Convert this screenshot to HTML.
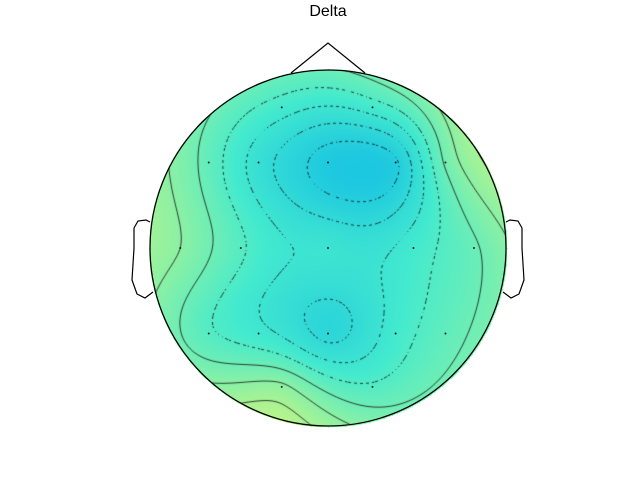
<!DOCTYPE html>
<html><head><meta charset="utf-8"><style>
html,body{margin:0;padding:0;background:#fff;}
#wrap{position:relative;width:640px;height:480px;font-family:"Liberation Sans",sans-serif;}
canvas,svg{position:absolute;left:0;top:0;}
</style></head><body>
<div id="wrap">
<canvas id="cv" width="640" height="480"></canvas>
<svg id="sv" width="640" height="480">
<text x="328" y="16" text-anchor="middle" font-size="16" fill="#000">Delta</text>
<polyline points="291,73 328,43 365,73" fill="none" stroke="#000" stroke-width="1.2"/>
<path d="M150,222 L146,220 L138,221 L134,228 L134,248 L132,280 L137,294 L145,298 L153,292" fill="none" stroke="#000" stroke-width="1.2"/>
<path d="M506,222 L510,220 L518,221 L522,228 L522,248 L524,280 L519,294 L511,298 L503,292" fill="none" stroke="#000" stroke-width="1.2"/>
<circle cx="328" cy="248" r="178" fill="none" stroke="#000" stroke-width="1.3"/>
<g id="sensors"></g>
</svg>
</div>
<script>
const sensorNames=["Fp1","Fp2","F7","F3","Fz","F4","F8","T3","C3","Cz","C4","T4","T5","P3","Pz","P4","T6","O1","O2"];
const sensorX=[-0.26,0.25,-0.67,-0.39,0,0.38,0.66,-0.83,-0.49,0,0.48,0.82,-0.67,-0.39,0,0.38,0.66,-0.26,0.25];
const sensorY=[0.79,0.79,0.48,0.48,0.48,0.48,0.48,0,0,0,0,0,-0.48,-0.48,-0.48,-0.48,-0.48,-0.78,-0.78];
const sensorValues=[0.42,0.42,0.55,0.3,0.06,0.1,0.62,0.72,0.5,0.35,0.42,0.58,0.5,0.4,0.2,0.42,0.55,0.75,0.5];
const contourLevels=[0.12,0.24,0.36,0.48,0.6,0.72,0.84];
const CX=328,CY=248,R=178;
const sx=u=>CX+u*R, sy=v=>CY-v*R;
const N=sensorX.length;
const phi=r2=>r2<=1e-9?0:0.5*r2*Math.log(r2);
const A=[];
for(let i=0;i<N+3;i++){A[i]=new Array(N+4).fill(0);}
for(let i=0;i<N;i++){
  for(let j=0;j<N;j++){const dx=sensorX[i]-sensorX[j],dy=sensorY[i]-sensorY[j];A[i][j]=phi(dx*dx+dy*dy);}
  A[i][N]=1;A[i][N+1]=sensorX[i];A[i][N+2]=sensorY[i];
  A[N][i]=1;A[N+1][i]=sensorX[i];A[N+2][i]=sensorY[i];
  A[i][N+3]=sensorValues[i];
}
const M=N+3;
for(let c=0;c<M;c++){
  let p=c;for(let r=c+1;r<M;r++)if(Math.abs(A[r][c])>Math.abs(A[p][c]))p=r;
  [A[c],A[p]]=[A[p],A[c]];
  for(let r=0;r<M;r++){if(r===c)continue;const f=A[r][c]/A[c][c];for(let k=c;k<=M;k++)A[r][k]-=f*A[c][k];}
}
const coef=A.map((row,i)=>row[M]/row[i]);
function field(px,py){
  const u=(px-CX)/R,v=(CY-py)/R;
  let s=coef[N]+coef[N+1]*u+coef[N+2]*v;
  for(let i=0;i<N;i++){const dx=u-sensorX[i],dy=v-sensorY[i];s+=coef[i]*phi(dx*dx+dy*dy);}
  return s;
}
function cmap(t){
  t=Math.max(0,Math.min(1,(t+0.05)/0.95));
  const s=[[0,[20,192,228]],[0.5,[68,234,206]],[1,[182,244,140]]];
  let a=s[0],b=s[1];if(t>0.5){a=s[1];b=s[2];}
  const f=(t-a[0])/(b[0]-a[0]);
  return a[1].map((c,k)=>Math.round(c+(b[1][k]-c)*f));
}
const cv=document.getElementById('cv'),ctx=cv.getContext('2d');
const img=ctx.createImageData(640,480);
for(let y=CY-R-1;y<=CY+R+1;y++)for(let x=CX-R-1;x<=CX+R+1;x++){
  const dx=x-CX,dy=y-CY;if(dx*dx+dy*dy>(R+1)*(R+1))continue;
  const c=cmap(field(x,y));const o=(y*640+x)*4;
  img.data[o]=c[0];img.data[o+1]=c[1];img.data[o+2]=c[2];img.data[o+3]=255;
}
ctx.putImageData(img,0,0);
const st=3,x0=CX-R-st,y0=CY-R-st,n=Math.ceil((2*R+2*st)/st)+1;
const g=[];for(let j=0;j<n;j++){g[j]=[];for(let i=0;i<n;i++)g[j][i]=field(x0+i*st,y0+j*st);}
ctx.save();ctx.beginPath();ctx.arc(CX,CY,R,0,Math.PI*2);ctx.clip();
ctx.strokeStyle='#111';ctx.lineWidth=0.8;
contourLevels.forEach(L=>{
  const dashed=L<0.5;ctx.beginPath();
  for(let j=0;j<n-1;j++)for(let i=0;i<n-1;i++){
    const v=[g[j][i],g[j][i+1],g[j+1][i+1],g[j+1][i]];
    const p=[[x0+i*st,y0+j*st],[x0+(i+1)*st,y0+j*st],[x0+(i+1)*st,y0+(j+1)*st],[x0+i*st,y0+(j+1)*st]];
    const pts=[];
    for(let e=0;e<4;e++){const a=v[e],b=v[(e+1)%4];
      if((a<L)!==(b<L)){const f=(L-a)/(b-a);const P=p[e],Q=p[(e+1)%4];pts.push([P[0]+(Q[0]-P[0])*f,P[1]+(Q[1]-P[1])*f]);}}
    for(let k=0;k+1<pts.length;k+=2){
      if(dashed&&((i+j)%2===1))continue;
      ctx.moveTo(pts[k][0],pts[k][1]);ctx.lineTo(pts[k+1][0],pts[k+1][1]);}
  }
  ctx.stroke();
});
ctx.restore();
const sg=document.getElementById('sensors');
for(let i=0;i<N;i++){
  const c=document.createElementNS('http://www.w3.org/2000/svg','circle');
  c.setAttribute('cx',sx(sensorX[i]));c.setAttribute('cy',sy(sensorY[i]));c.setAttribute('r',1);c.setAttribute('fill','#222');
  
  
  sg.appendChild(c);
}
</script>
</body></html>
